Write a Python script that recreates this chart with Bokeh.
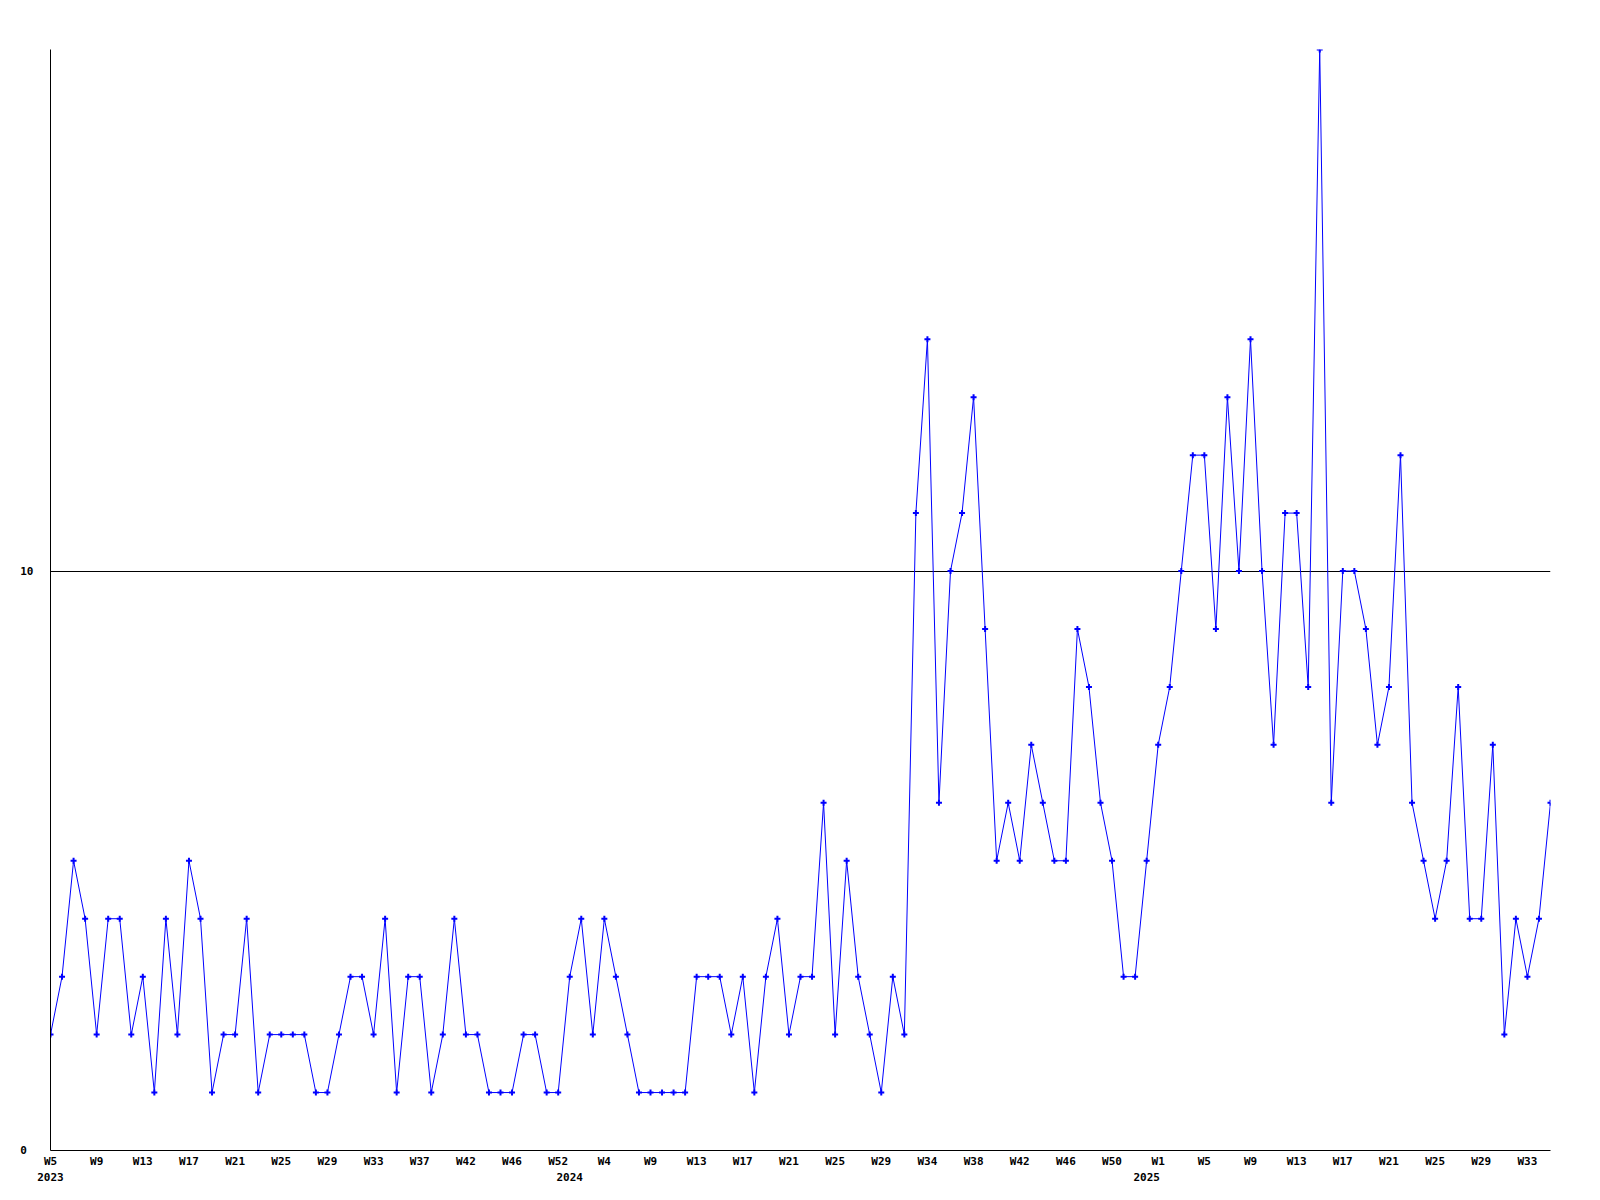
from bokeh.plotting import figure
from bokeh.models import Range1d, FixedTicker, LinearAxis
from bokeh.embed import file_html
from bokeh.resources import INLINE

# Weekly counts, 2023 W5 .. 2025 W35 (one value per week, in order)
values = [2, 3, 5, 4, 2, 4, 4, 2, 3, 1,
          4, 2, 5, 4, 1, 2, 2, 4, 1, 2,
          2, 2, 2, 1, 1, 2, 3, 3, 2, 4,
          1, 3, 3, 1, 2, 4, 2, 2, 1, 1,
          1, 2, 2, 1, 1, 3, 4, 2, 4, 3,
          2, 1, 1, 1, 1, 1, 3, 3, 3, 2,
          3, 1, 3, 4, 2, 3, 3, 6, 2, 5,
          3, 2, 1, 3, 2, 11, 14, 6, 10, 11,
          13, 9, 5, 6, 5, 7, 6, 5, 5, 9,
          8, 6, 5, 3, 3, 5, 7, 8, 10, 12,
          12, 9, 13, 10, 14, 10, 7, 11, 11, 8,
          19, 6, 10, 10, 9, 7, 8, 12, 6, 5,
          4, 5, 8, 4, 4, 7, 2, 4, 3, 4,
          6]

# Week tick labels, shown on every 4th week
week_labels = ["W5", "W9", "W13", "W17", "W21", "W25", "W29", "W33", "W37", "W42",
               "W46", "W52", "W4", "W9", "W13", "W17", "W21", "W25", "W29", "W34",
               "W38", "W42", "W46", "W50", "W1", "W5", "W9", "W13", "W17", "W21",
               "W25", "W29", "W33"]
label_every = 4

# Year labels and the week index where each year starts
year_labels = ["2023", "2024", "2025"]
year_start_index = [0, 45, 95]

y_ticks = [0, 10]
y_tick_labels = ["0 ", "10"]
y_max = 19

x = list(range(len(values)))

FONT = "DejaVu Sans Mono"
BLUE = "#0000FF"

p = figure(frame_width=1500, frame_height=1101,
           x_range=Range1d(0, len(values) - 1), y_range=Range1d(0, y_max),
           output_backend="svg", toolbar_location=None,
           min_border_left=50, min_border_right=28,
           min_border_top=49, min_border_bottom=36)
p.outline_line_color = None
p.background_fill_color = "white"
p.border_fill_color = "white"

# lines and markers
p.line(x, values, line_color=BLUE, line_width=1)
p.scatter(x, values, marker="cross", size=6, line_color=BLUE, line_width=2)

# bottom week axis
xa = p.below[0]
week_ticks = [i * label_every for i in range(len(week_labels))]
xa.ticker = FixedTicker(ticks=week_ticks)
xa.major_label_overrides = {t: lab for t, lab in zip(week_ticks, week_labels)}
xa.major_tick_out = 0
xa.major_tick_in = 0
xa.minor_tick_out = 0
xa.minor_tick_in = 0
xa.axis_line_color = "black"
xa.axis_line_width = 1
xa.major_label_text_font = FONT
xa.major_label_text_font_style = "bold"
xa.major_label_text_font_size = "11px"
xa.major_label_text_color = "black"
xa.major_label_standoff = 4

# year axis below
ya2 = LinearAxis(ticker=FixedTicker(ticks=year_start_index))
ya2.major_label_overrides = {t: lab for t, lab in zip(year_start_index, year_labels)}
ya2.axis_line_color = None
ya2.major_tick_out = 0
ya2.major_tick_in = 0
ya2.minor_tick_out = 0
ya2.minor_tick_in = 0
ya2.major_label_text_font = FONT
ya2.major_label_text_font_style = "bold"
ya2.major_label_text_font_size = "11px"
ya2.major_label_text_color = "black"
ya2.major_label_standoff = 2
p.add_layout(ya2, "below")

# left axis
ya = p.left[0]
ya.ticker = FixedTicker(ticks=y_ticks)
ya.major_label_overrides = {t: lab for t, lab in zip(y_ticks, y_tick_labels)}
ya.major_tick_out = 0
ya.major_tick_in = 0
ya.minor_tick_out = 0
ya.minor_tick_in = 0
ya.axis_line_color = "black"
ya.axis_line_width = 1
ya.major_label_text_font = FONT
ya.major_label_text_font_style = "bold"
ya.major_label_text_font_size = "11px"
ya.major_label_text_color = "black"
ya.major_label_standoff = 17

# grid
p.xgrid.grid_line_color = None
p.ygrid.ticker = FixedTicker(ticks=y_ticks)
p.ygrid.grid_line_color = "black"
p.ygrid.grid_line_alpha = 1.0
p.ygrid.grid_line_width = 1

open("out.html", "w").write(file_html(p, INLINE))
